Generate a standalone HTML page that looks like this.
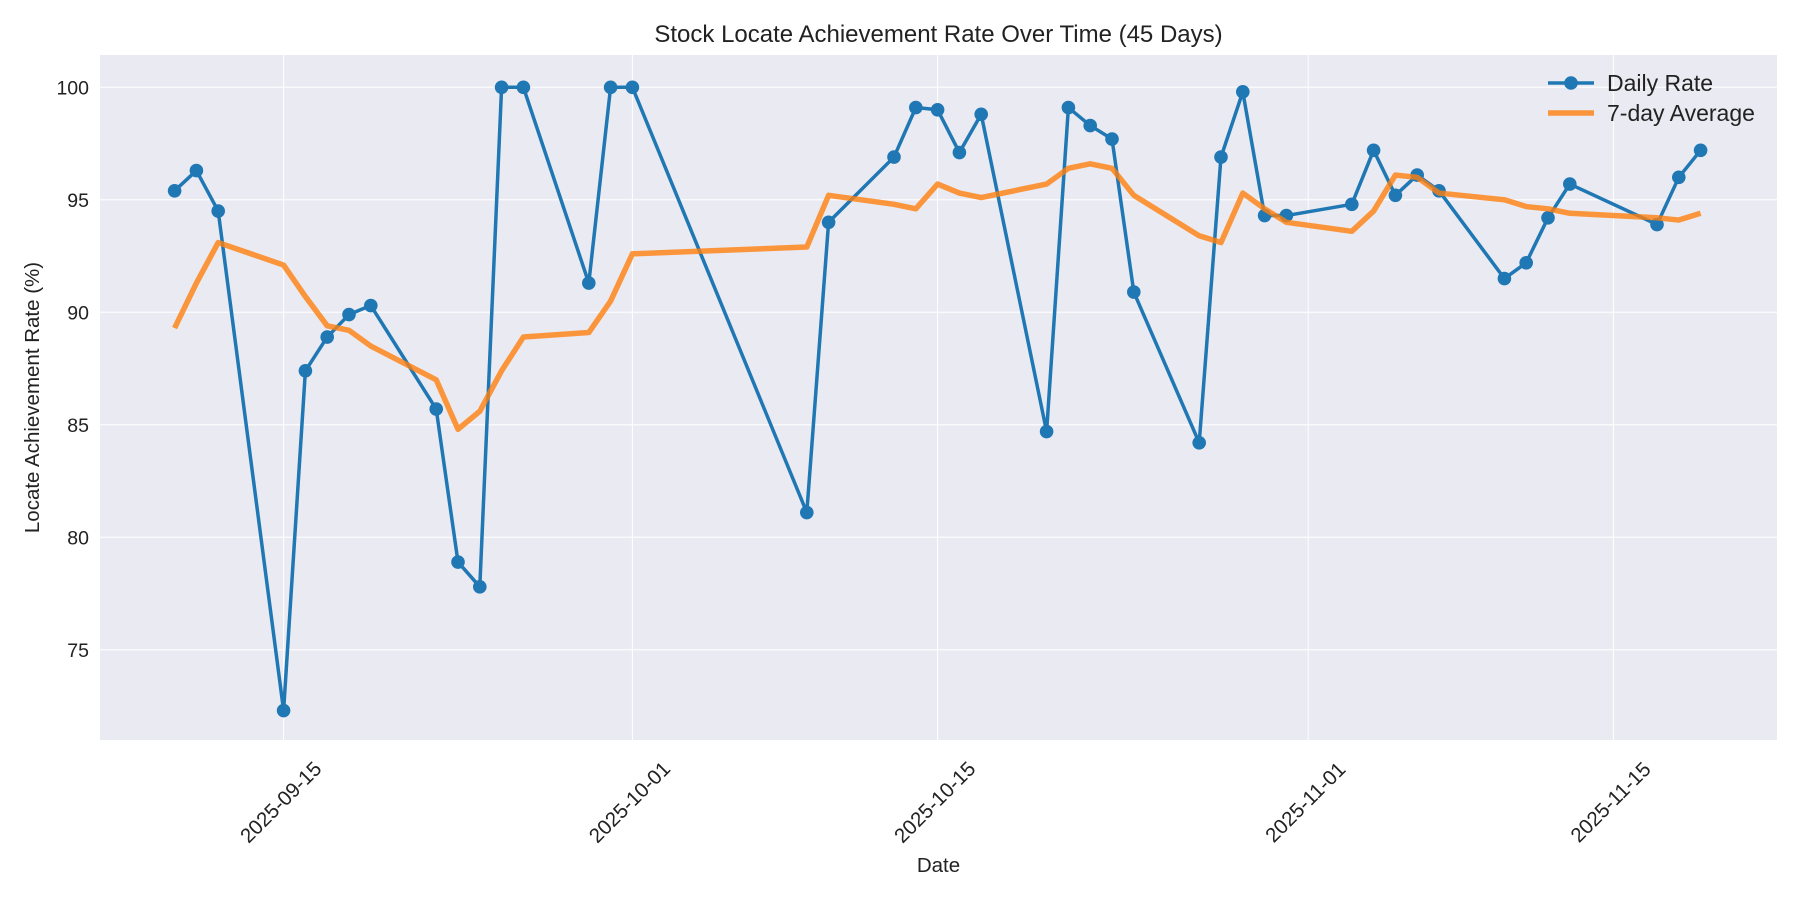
<!DOCTYPE html>
<html><head><meta charset="utf-8"><style>
body{margin:0;background:#fff;font-family:"Liberation Sans","DejaVu Sans",sans-serif;}
svg{display:block}
</style></head><body>
<svg id="chart" width="1800" height="900" xmlns="http://www.w3.org/2000/svg"></svg>
<script>
const dates=["2025-09-10","2025-09-11","2025-09-12","2025-09-15","2025-09-16","2025-09-17","2025-09-18","2025-09-19","2025-09-22","2025-09-23","2025-09-24","2025-09-25","2025-09-26","2025-09-29","2025-09-30","2025-10-01","2025-10-09","2025-10-10","2025-10-13","2025-10-14","2025-10-15","2025-10-16","2025-10-17","2025-10-20","2025-10-21","2025-10-22","2025-10-23","2025-10-24","2025-10-27","2025-10-28","2025-10-29","2025-10-30","2025-10-31","2025-11-03","2025-11-04","2025-11-05","2025-11-06","2025-11-07","2025-11-10","2025-11-11","2025-11-12","2025-11-13","2025-11-17","2025-11-18","2025-11-19"];
const dailyRate=[95.4,96.3,94.5,72.3,87.4,88.9,89.9,90.3,85.7,78.9,77.8,100,100,91.3,100,100,81.1,94.0,96.9,99.1,99.0,97.1,98.8,84.7,99.1,98.3,97.7,90.9,84.2,96.9,99.8,94.3,94.3,94.8,97.2,95.2,96.1,95.4,91.5,92.2,94.2,95.7,93.9,96.0,97.2];
const avg7=[89.3,91.3,93.1,92.1,90.7,89.4,89.2,88.5,87.0,84.8,85.6,87.4,88.9,89.1,90.5,92.6,92.9,95.2,94.8,94.6,95.7,95.3,95.1,95.7,96.4,96.6,96.4,95.2,93.4,93.1,95.3,94.6,94.0,93.6,94.5,96.1,96.0,95.3,95.0,94.7,94.6,94.4,94.2,94.1,94.4];
const xTicks=["2025-09-15","2025-10-01","2025-10-15","2025-11-01","2025-11-15"];
const yTicks=[75,80,85,90,95,100];

const L=100,R=1777,T=55,B=740;
const day0=Date.UTC(2025,8,15);
function dnum(s){const p=s.split('-');return (Date.UTC(+p[0],+p[1]-1,+p[2])-day0)/86400000;}
const X=d=>283.6+dnum(d)*21.8;
const Y=v=>87.3+(100-v)*(649.8-87.3)/25;
const svg=document.getElementById('chart');
const NS="http://www.w3.org/2000/svg";
function mk(tag,attrs,parent){const e=document.createElementNS(NS,tag);for(const k in attrs)e.setAttribute(k,attrs[k]);(parent||svg).appendChild(e);return e;}

const bg=mk('rect',{x:L,y:T,width:R-L,height:B-T,fill:'#eaeaf2'});



yTicks.forEach(v=>{
  const g=mk('line',{x1:L,x2:R,y1:Y(v),y2:Y(v),stroke:'#fff','stroke-width':1});
  
  
  const t=mk('text',{x:L-11,y:Y(v)+7,'text-anchor':'end','font-size':19.5,fill:'#222'});
  t.textContent=v;
  
  
});
xTicks.forEach(d=>{
  const x=X(d);
  const g=mk('line',{x1:x,x2:x,y1:T,y2:B,stroke:'#fff','stroke-width':1});
  
  
  const t=mk('text',{x:0,y:0,dy:'0.35em','text-anchor':'middle','font-size':20.5,fill:'#222',transform:`translate(${x-3},${B+62}) rotate(-45)`});
  t.textContent=d;
  
  
});

const dl=mk('polyline',{points:dates.map((d,i)=>X(d)+','+Y(dailyRate[i])).join(' '),fill:'none',stroke:'#1f77b4','stroke-width':3.5,'stroke-linejoin':'round'});


dates.forEach((d,i)=>{
  const c=mk('circle',{cx:X(d),cy:Y(dailyRate[i]),r:6.8,fill:'#1f77b4'});
  
  
});
const al=mk('polyline',{points:dates.map((d,i)=>X(d)+','+Y(avg7[i])).join(' '),fill:'none',stroke:'#ff7f0e','stroke-opacity':0.8,'stroke-width':5.5,'stroke-linejoin':'round'});



const title=mk('text',{x:(L+R)/2,y:42,'text-anchor':'middle','font-size':24,fill:'#222'});
title.textContent='Stock Locate Achievement Rate Over Time (45 Days)';


const xt=mk('text',{x:(L+R)/2,y:872,'text-anchor':'middle','font-size':20.5,fill:'#222'});
xt.textContent='Date';


const yt=mk('text',{x:0,y:0,'text-anchor':'middle','font-size':20.5,fill:'#222',transform:`translate(39,${(T+B)/2}) rotate(-90)`});
yt.textContent='Locate Achievement Rate (%)';



// legend
const lg=mk('g',{});


const l1=mk('line',{x1:1548,x2:1594,y1:83,y2:83,stroke:'#1f77b4','stroke-width':3.5},lg);


const c1=mk('circle',{cx:1571,cy:83,r:6.8,fill:'#1f77b4'},lg);


const t1=mk('text',{x:1607,y:91,'font-size':23,fill:'#222'},lg);
t1.textContent='Daily Rate';


const l2=mk('line',{x1:1548,x2:1594,y1:113,y2:113,stroke:'#ff7f0e','stroke-opacity':0.8,'stroke-width':5.5},lg);


const t2=mk('text',{x:1607,y:121,'font-size':23,fill:'#222'},lg);
t2.textContent='7-day Average';


</script>
</body></html>
